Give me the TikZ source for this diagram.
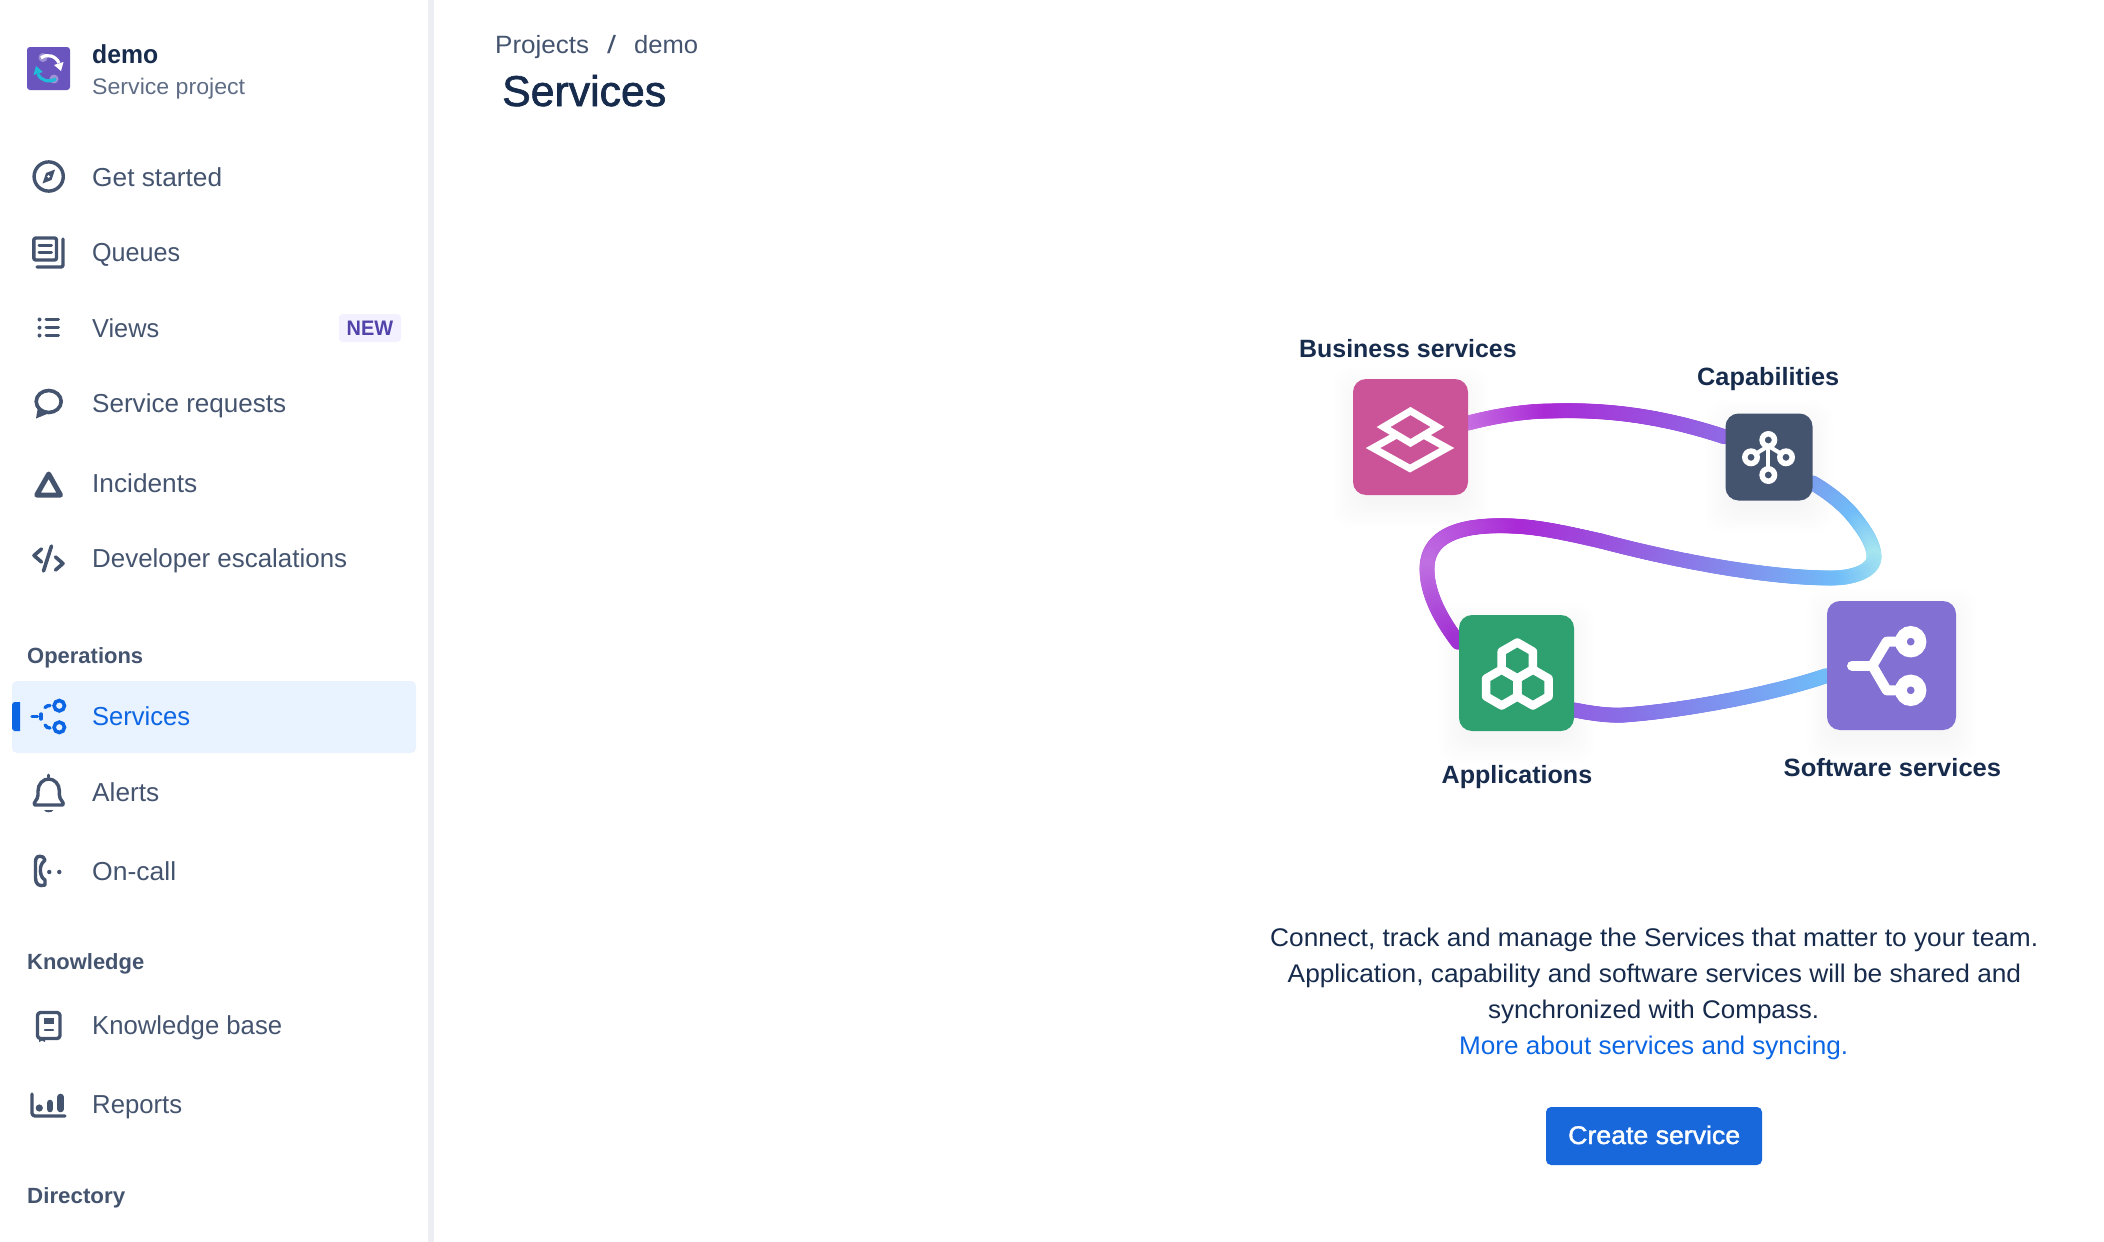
\documentclass[tikz,border=0pt]{standalone}
\usepackage{fontspec}
\usepackage{graphicx}
\setmainfont{Liberation Sans}
\newfontfamily\medf[FakeBold=1.5]{Liberation Sans}
\usetikzlibrary{decorations.markings}
\definecolor{ink}{HTML}{172B4D}
\definecolor{nav}{HTML}{44546F}
\definecolor{subt}{HTML}{5E6C84}
\definecolor{act}{HTML}{0C66E4}
\definecolor{actbg}{HTML}{E9F2FF}
\definecolor{divd}{HTML}{EDEEF3}
\definecolor{pill}{HTML}{F3F0FF}
\definecolor{pilltx}{HTML}{5243AA}
\definecolor{logo}{HTML}{6A55BE}
\definecolor{bizc}{HTML}{CB5499}
\definecolor{capc}{HTML}{44546F}
\definecolor{appc}{HTML}{2FA070}
\definecolor{swc}{HTML}{8270D3}
\definecolor{btn}{HTML}{1868DB}
\definecolor{ra}{HTML}{C873E2}
\definecolor{rb}{HTML}{A92AD6}
\definecolor{rc}{HTML}{9068E4}
\definecolor{rd}{HTML}{7C9CEE}
\definecolor{re}{HTML}{70BCF8}
\definecolor{rf}{HTML}{A6E6F0}
\definecolor{rg}{HTML}{9A52DE}
\definecolor{rh}{HTML}{C070E2}
\definecolor{ri}{HTML}{A030D2}
\definecolor{rj}{HTML}{9060E2}
\definecolor{rk}{HTML}{8A6CE6}
\definecolor{teal}{HTML}{1FBBD8}
\pgfdeclarelayer{under}
\pgfsetlayers{under,main}
\newcommand\tw[2]{\resizebox{#1pt}{\height}{#2}}
\newcommand\ribbon[3]{\path[decorate,decoration={markings,mark=between positions 0 and 1 step 1.5pt with {%
  \pgfmathsetmacro\mixp{max(0,min(100,100*(1-\pgfkeysvalueof{/pgf/decoration/mark info/distance from start}/\pgfdecoratedpathlength)))}%
  \fill[#1!\mixp!#2] (0,0) circle[radius=7.5pt];}}] #3;}
\newcommand\softsh[1]{\foreach \e in {2,5,...,26}{%
  \fill[black!75!blue,opacity=0.0045,rounded corners=18pt] ([xshift=6pt-\e pt,yshift=-6pt-\e pt]#1.south west) rectangle ([xshift=-6pt+\e pt,yshift=-14pt+\e pt]#1.north east);}}
\tikzset{
  navt/.style={anchor=base west,inner sep=0pt,text=nav,font=\fontsize{26}{30}\selectfont},
  sect/.style={anchor=base west,inner sep=0pt,text=nav,font=\fontsize{22}{26}\selectfont\bfseries},
  lab/.style={anchor=base west,inner sep=0pt,text=ink,font=\fontsize{25}{30}\selectfont\bfseries},
  body/.style={anchor=base west,inner sep=0pt,text=ink,font=\fontsize{25.5}{30}\selectfont},
  tile/.style={inner sep=0pt,rounded corners=13pt},
  ic/.style={draw=nav,line width=3.2pt,line cap=round,line join=round},
  icw/.style={draw=white,line cap=round,line join=round}
}
\begin{document}
\begin{tikzpicture}[x=1pt,y=-1pt]
\useasboundingbox (0,0) rectangle (2104,1242);
\begin{pgfonlayer}{under}
\fill[white] (0,0) rectangle (2104,1242);
\end{pgfonlayer}
% sidebar divider
\fill[divd] (428,0) rectangle (434,1242);
% header
\node[rounded corners=3pt,fill=logo,minimum width=43pt,minimum height=43pt,inner sep=0pt] (logobox) at (48.5,68.5) {};
\fill[white!35!logo] (43,57.5) circle[radius=4.5pt];
\fill[white!35!logo] (54,79) circle[radius=4.5pt];
\draw[white,line width=3.2pt] (41,58) .. controls (47,53) and (56,56) .. (59,63);
\fill[white] (63.5,62) -- (61,71) -- (54,65) -- cycle;
\draw[teal,line width=3.2pt] (56,79) .. controls (50,83) and (41,81) .. (38,74);
\fill[teal] (33.5,75) -- (36,66) -- (43,72) -- cycle;
\node[anchor=base west,inner sep=0pt,text=ink,font=\fontsize{26}{30}\selectfont\bfseries] (demo) at (92,63) {\tw{66}{demo}};
\node[anchor=base west,inner sep=0pt,text=subt,font=\fontsize{22.5}{26}\selectfont] (subtitle) at (92,94) {\tw{153}{Service project}};
% nav items
\node[navt] (n1) at (92,186) {\tw{130}{Get started}};
\node[navt] (n2) at (92,261) {\tw{88}{Queues}};
\node[navt] (n3) at (92,337) {\tw{67}{Views}};
\node[rounded corners=4pt,fill=pill,minimum width=62pt,minimum height=28pt,inner sep=0pt] (pillbox) at (370,328) {};
\node[anchor=base west,inner sep=0pt,text=pilltx,font=\fontsize{21}{24}\selectfont\bfseries] (pilltext) at (346.5,335) {\tw{46.5}{NEW}};
\node[navt] (n4) at (92,412) {\tw{194}{Service requests}};
\node[navt] (n5) at (92,492) {\tw{105}{Incidents}};
\node[navt] (n6) at (92,567) {\tw{255}{Developer escalations}};
\node[sect] (s1) at (27,663) {\tw{116}{Operations}};
\fill[actbg,rounded corners=5pt] (12,681) rectangle (416,753);
\fill[act,rounded corners=3pt] (12,702) -- (17,702) .. controls (19,702) and (20,703) .. (20,705) -- (20,728) .. controls (20,730) and (19,731) .. (17,731) -- (12,731) -- cycle;
\node[navt,text=act] (n7) at (92,725) {\tw{98}{Services}};
\node[navt] (n8) at (92,801) {\tw{67}{Alerts}};
\node[navt] (n9) at (92,880) {\tw{84}{On-call}};
\node[sect] (s2) at (27,969) {\tw{117}{Knowledge}};
\node[navt] (n10) at (92,1034) {\tw{190}{Knowledge base}};
\node[navt] (n11) at (92,1113) {\tw{90}{Reports}};
\node[sect] (s3) at (27,1203) {\tw{98}{Directory}};
% nav icons
\draw[ic,line width=3.4pt] (48.7,176.5) circle[radius=14.6pt];
\fill[nav] (42.5,183.5) -- (46,173) -- (55,169.5) -- (51.5,180) -- cycle;
\fill[white] (48.7,176.5) circle[radius=1.5pt];
\draw[ic,line width=3.4pt,rounded corners=2pt] (33.8,238) rectangle (56.5,260);
\draw[ic,line width=3pt] (39,245) -- (51.5,245);
\draw[ic,line width=3pt] (39,252) -- (51.5,252);
\draw[ic,line width=3.4pt,rounded corners=2pt] (37,267) -- (63,267) -- (63,239);
\foreach \yy in {319.5,327.7,335.5}{\fill[nav] (39.5,\yy) circle[radius=2pt];\draw[ic,line width=3pt] (46,\yy) -- (58.5,\yy);}
\draw[ic,line width=3.6pt] (48.7,401.5) ellipse[x radius=12.5pt,y radius=11pt];
\fill[nav] (38,407) -- (36,418.5) -- (47,414) -- cycle;
\draw[ic,line width=5pt] (48.7,474) -- (60.5,495) -- (36.7,495) -- cycle;
\draw[ic,line width=3.6pt] (41.5,549) -- (34,555.5) -- (41.5,562);
\draw[ic,line width=3.6pt] (51.5,546) -- (43.5,571);
\draw[ic,line width=3.6pt] (55.5,557) -- (63,563.5) -- (55.5,570);
% services icon
\draw[act,line width=3.6pt] (59.3,705.7) circle[radius=5.2pt];
\draw[act,line width=3.6pt] (59.3,727.3) circle[radius=5.2pt];
\draw[act,line width=3.4pt,line cap=round] (32,716.7) -- (37.5,716.7);
\draw[act,line width=3.4pt,line cap=round] (41,714) -- (41,716.7) -- (41,719);
\draw[act,line width=3.4pt,line cap=round] (45,707.5) .. controls (46.5,706) and (48,705.5) .. (50,705.5);
\draw[act,line width=3.4pt,line cap=round] (45,725) .. controls (46,727) and (48,728) .. (50,728);
% bell
\draw[ic,line width=3.4pt] (34.5,805) .. controls (33,802) and (38,800) .. (38,795) -- (38,791) .. controls (38,784) and (43,779) .. (48.7,779) .. controls (54.4,779) and (59.4,784) .. (59.4,791) -- (59.4,795) .. controls (59.4,800) and (64.5,802) .. (63,805) -- cycle;
\draw[ic,line width=3pt] (48.7,777) -- (48.7,775);
\fill[nav] (44,810) -- (53.4,810) .. controls (52,813) and (45.4,813) .. (44,810) -- cycle;
% on-call
\draw[ic,line width=3.4pt] (43,857) .. controls (38,855) and (35.5,857) .. (35.5,862) -- (35.5,878) .. controls (35.5,884) and (39,887) .. (45,885) -- (45,880) .. controls (41,878) and (40,872) .. (40.5,868) .. controls (41,864) and (43,862) .. (45,860) -- cycle;
\fill[nav] (49.3,872) circle[radius=2.2pt];
\fill[nav] (59.3,872) circle[radius=2.2pt];
% knowledge base
\draw[ic,line width=3.4pt,rounded corners=3pt] (37.5,1012.5) rectangle (60,1038.5);
\fill[nav] (44,1018) rectangle (54,1023.5);
\draw[ic,line width=2.6pt] (45,1030) -- (53,1030);
\fill[nav] (39,1038) -- (45,1038) -- (45,1042) -- (42,1040.5) -- (39,1042) -- cycle;
% reports
\draw[ic,line width=3.4pt,rounded corners=3pt] (32,1094) -- (32,1116) -- (65,1116);
\fill[nav] (39.3,1108) circle[radius=3.6pt];
\draw[ic,line width=6.6pt] (50,1103) -- (50,1109);
\draw[ic,line width=6.6pt] (60.7,1097) -- (60.7,1109);
% title
\node[anchor=base west,inner sep=0pt,text=nav,font=\fontsize{25}{30}\selectfont] (bc1) at (495,53) {\tw{94}{Projects}};
\node[anchor=base west,inner sep=0pt,text=nav,font=\fontsize{25}{30}\selectfont] (bc2) at (607,53) {\tw{9}{/}};
\node[anchor=base west,inner sep=0pt,text=nav,font=\fontsize{25}{30}\selectfont] (bc3) at (634,53) {\tw{64}{demo}};
\node[anchor=base west,inner sep=0pt,text=ink,font=\fontsize{43}{50}\medf] (title) at (502,106) {\tw{164}{Services}};
% tiles
\node[tile,fill=bizc,minimum width=115pt,minimum height=116pt] (biz) at (1410.5,437) {};
\node[tile,fill=capc,minimum width=87pt,minimum height=87pt] (cap) at (1769,457) {};
\node[tile,fill=appc,minimum width=115pt,minimum height=116pt] (app) at (1516.5,673) {};
\node[tile,fill=swc,minimum width=129pt,minimum height=129pt] (sw) at (1891.5,665.5) {};
\coordinate (w1) at (1551,411);
\coordinate (w2) at (1854,517);
\coordinate (w3) at (1874,557);
\coordinate (w4) at (1831,578);
\coordinate (w5) at (1601,541);
\coordinate (w6) at (1512,526);
\coordinate (w7) at (1427,569);
\coordinate (w8) at (1624,715);
\begin{pgfonlayer}{under}
\softsh{biz}\softsh{cap}\softsh{app}\softsh{sw}
\ribbon{ra}{rb}{([yshift=14pt]biz.east) .. controls (1495,416) and (1525,411) .. (w1)}
\ribbon{rb}{rc}{(w1) .. controls (1610,409) and (1665,417) .. ([yshift=20pt]cap.west)}
\ribbon{rd}{re}{([yshift=-26pt]cap.east) .. controls (1825,490) and (1843,503) .. (w2)}
\ribbon{re}{rf}{(w2) .. controls (1866,532) and (1874,545) .. (w3)}
\ribbon{rf}{re}{(w3) .. controls (1874,570) and (1855,578) .. (w4)}
\ribbon{re}{rg}{(w4) .. controls (1770,578) and (1680,562) .. (w5)}
\ribbon{rg}{rb}{(w5) .. controls (1570,534) and (1540,527) .. (w6)}
\ribbon{rb}{rh}{(w6) .. controls (1465,524) and (1427,533) .. (w7)}
\ribbon{rh}{ri}{(w7) .. controls (1427,597) and (1445,625) .. ([yshift=30pt]app.west)}
\ribbon{rj}{rk}{([yshift=-37pt]app.east) .. controls (1585,712) and (1605,716) .. (w8)}
\ribbon{rk}{re}{(w8) .. controls (1680,711) and (1770,695) .. ([yshift=-10pt]sw.west)}
\end{pgfonlayer}
% biz icon
\draw[icw,line width=7pt,line join=miter,line cap=butt] (1373,448) -- (1410,468.5) -- (1447,448) -- (1410,427.5) -- cycle;
\draw[icw,fill=bizc,line width=7pt,line join=miter,line cap=butt] (1383.5,427) -- (1410.5,411) -- (1437.5,427) -- (1410.5,443) -- cycle;
% cap icon
\draw[white,line width=4pt] (1768.3,440) -- (1768.3,475);
\draw[white,line width=4pt] (1768.3,446) -- (1757,453);
\draw[white,line width=4pt] (1768.3,446) -- (1780,453);
\foreach \cx/\cy in {1768.3/440,1751/457.3,1786/457.3,1768.3/475}{\draw[white,fill=capc,line width=5.5pt] (\cx,\cy) circle[radius=6.2pt];}
% app icon
\foreach \cx/\cy in {1517.3/660.5,1501.7/687.5,1532.9/687.5}{
  \draw[icw,line width=8.5pt] (\cx,\cy-18) -- (\cx+15.6,\cy-9) -- (\cx+15.6,\cy+9) -- (\cx,\cy+18) -- (\cx-15.6,\cy+9) -- (\cx-15.6,\cy-9) -- cycle;}
% sw icon
\draw[icw,line width=10pt] (1852,665.7) -- (1872.3,665.7);
\draw[icw,line width=10pt,line cap=butt] (1905,641.7) -- (1886.7,641.7) -- (1872.3,665.7) -- (1886.7,690.3) -- (1905,690.3);
\draw[white,line width=11.7pt,fill=swc] (1910.7,641.7) circle[radius=9.8pt];
\draw[white,line width=11.7pt,fill=swc] (1910.7,690.3) circle[radius=9.8pt];
% labels
\node[lab] (lb1) at (1299,357) {\tw{217.5}{Business services}};
\node[lab] (lb2) at (1697,385) {\tw{142}{Capabilities}};
\node[lab] (lb3) at (1441.5,783) {\tw{150.5}{Applications}};
\node[lab] (lb4) at (1783.5,776) {\tw{217.5}{Software services}};
% body
\node[body] (t1) at (1270,946) {\tw{768}{Connect, track and manage the Services that matter to your team.}};
\node[body] (t2) at (1287.5,982) {\tw{733.5}{Application, capability and software services will be shared and}};
\node[body] (t3) at (1488,1018) {\tw{331}{synchronized with Compass.}};
\node[body,text=act] (t4) at (1459,1054) {\tw{389}{More about services and syncing.}};
\node[rounded corners=5pt,fill=btn,minimum width=216pt,minimum height=58pt,inner sep=0pt] (button) at (1654,1136) {};
\node[anchor=base west,inner sep=0pt,text=white,font=\fontsize{25.5}{30}\medf] (buttontext) at (1568,1144) {\tw{172}{Create service}};
\end{tikzpicture}
\end{document}
